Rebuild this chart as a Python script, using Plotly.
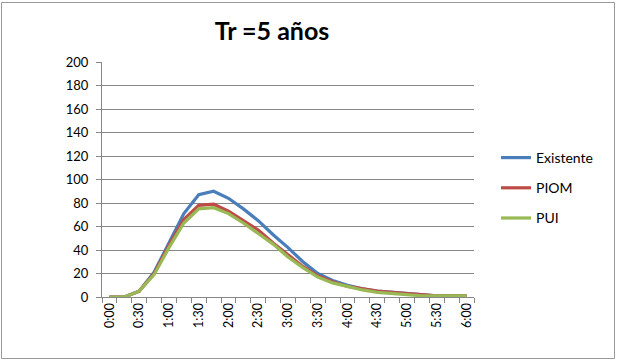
import plotly.graph_objects as go

# Hydrograph time steps (15 min) and flows for each scenario
times = ["0:00", "0:15", "0:30", "0:45", "1:00", "1:15", "1:30", "1:45", "2:00",
         "2:15", "2:30", "2:45", "3:00", "3:15", "3:30", "3:45", "4:00", "4:15",
         "4:30", "4:45", "5:00", "5:15", "5:30", "5:45", "6:00"]
existente = [0, 0, 5, 21, 46, 71, 87, 90, 84, 75, 65, 53, 42, 30, 20, 14, 10, 7, 5, 4, 3, 2, 1, 1, 1]
piom = [0, 0, 5, 20, 44, 66, 78, 79, 73, 65, 57, 46, 36, 26, 18, 13, 9, 7, 5, 4, 3, 2, 1, 1, 1]
pui = [0, 0, 5, 19, 42, 63, 75, 76, 71, 63, 54, 45, 34, 25, 17, 12, 9, 6, 4, 3, 2, 1, 1, 1, 1]

series = [
    ("Existente", existente, "#4A7EBB"),
    ("PIOM", piom, "#BE4B48"),
    ("PUI", pui, "#98B954"),
]

FONT = "Lato"
positions = list(range(len(times)))

fig = go.Figure()
for name, vals, color in series:
    fig.add_trace(go.Scatter(
        x=positions, y=vals, name=name, mode="lines",
        line=dict(color=color, width=3.2),
        legendgroup=name,
    ))

W, H = 617, 362
L, R, T, B = 102, 143, 62, 65
pw, ph = W - L - R, H - T - B

def px_x(v):
    return (v - L) / pw

def px_y(v):
    return (H - B - v) / ph

fig.update_layout(
    width=W, height=H,
    margin=dict(l=L, r=R, t=T, b=B),
    paper_bgcolor="white", plot_bgcolor="white",
    font=dict(family=FONT, color="#000000", size=13),
    title=dict(text="<b>Tr =5 años</b>", x=px_x(266), xanchor="center",
               y=1 - 31 / H, yanchor="middle",
               font=dict(family=FONT, size=25, color="#000000")),
    showlegend=True,
    legend=dict(x=px_x(496), xanchor="left", y=px_y(142), yanchor="top",
                bgcolor="rgba(0,0,0,0)", font=dict(family=FONT, size=14),
                tracegroupgap=9, itemwidth=30),
    xaxis=dict(
        range=[-0.5, len(times) - 0.5],
        tickmode="array", tickvals=positions[::2], ticktext=times[::2],
        tickangle=-90, ticks="", showgrid=False, zeroline=False,
        showline=True, linecolor="#868686", linewidth=1,
        tickfont=dict(family=FONT, size=12.5),
        minor=dict(tick0=0.5, dtick=1, ticks="outside", ticklen=5,
                   tickcolor="#868686", showgrid=False),
    ),
    yaxis=dict(
        range=[0, 200], dtick=20, tick0=0,
        ticks="outside", ticklen=5, tickcolor="#868686",
        ticklabelstandoff=5,
        showgrid=True, gridcolor="#868686", gridwidth=1,
        zeroline=False, showline=True, linecolor="#868686", linewidth=1,
        tickfont=dict(family=FONT, size=13),
    ),
    shapes=[dict(
        type="rect", xref="paper", yref="paper",
        x0=px_x(1.5), x1=px_x(W - 2.5), y0=px_y(H - 3.5), y1=px_y(2.5),
        line=dict(color="#9a9a9a", width=1), fillcolor="rgba(0,0,0,0)",
        layer="below",
    )],
)

fig.write_html("out.html")
